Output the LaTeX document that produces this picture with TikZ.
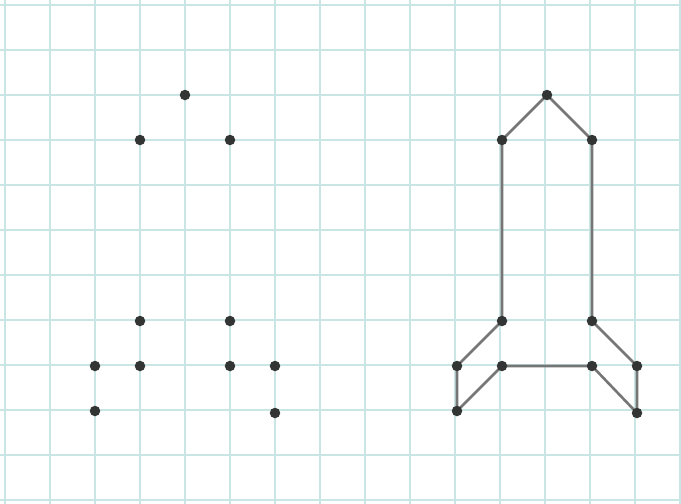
\documentclass[tikz,border=0pt]{standalone}
\definecolor{gridc}{HTML}{C9E5E4}
\definecolor{dotc}{HTML}{333535}
\definecolor{linec}{HTML}{767676}
\begin{document}
\begin{tikzpicture}[x=1pt,y=-1pt,
  dot/.style={circle,fill=dotc,inner sep=0pt,minimum size=10.5pt},
  edge/.style={draw=linec,line width=2.6pt}]
\useasboundingbox (0,0) rectangle (681,504);
\fill[white] (0,0) rectangle (681,504);
\foreach \i in {0,...,15} \draw[gridc,line width=2.2pt] (5+45*\i,0) -- (5+45*\i,504);
\foreach \j in {0,...,11} \draw[gridc,line width=2.2pt] (0,5+45*\j) -- (681,5+45*\j);
% left dots
\node[dot] (la) at (185,95) {};
\node[dot] (lb) at (140,140) {};
\node[dot] (lc) at (230,140) {};
\node[dot] (ld) at (140,321) {};
\node[dot] (le) at (230,321) {};
\node[dot] (lf) at (95,366) {};
\node[dot] (lh) at (140,366) {};
\node[dot] (li) at (230,366) {};
\node[dot] (lk) at (275,366) {};
\node[dot] (lg) at (95,411) {};
\node[dot] (lj) at (275,413) {};
% right figure
\coordinate (ra) at (547,95);
\coordinate (rb) at (502,140);
\coordinate (rc) at (592,140);
\coordinate (rd) at (502,321);
\coordinate (re) at (592,321);
\coordinate (rf) at (457,366);
\coordinate (rh) at (502,366);
\coordinate (ri) at (592,366);
\coordinate (rk) at (637,366);
\coordinate (rg) at (457,411);
\coordinate (rj) at (637,413);
\draw[edge,line join=round] (rf) -- (rd) -- (rb) -- (ra) -- (rc) -- (re) -- (rk) -- (rj) -- (ri) -- (rh) -- (rg) -- cycle;
\foreach \p in {ra,rb,rc,rd,re,rf,rh,ri,rk,rg,rj} \node[dot] (n\p) at (\p) {};
\end{tikzpicture}
\end{document}
